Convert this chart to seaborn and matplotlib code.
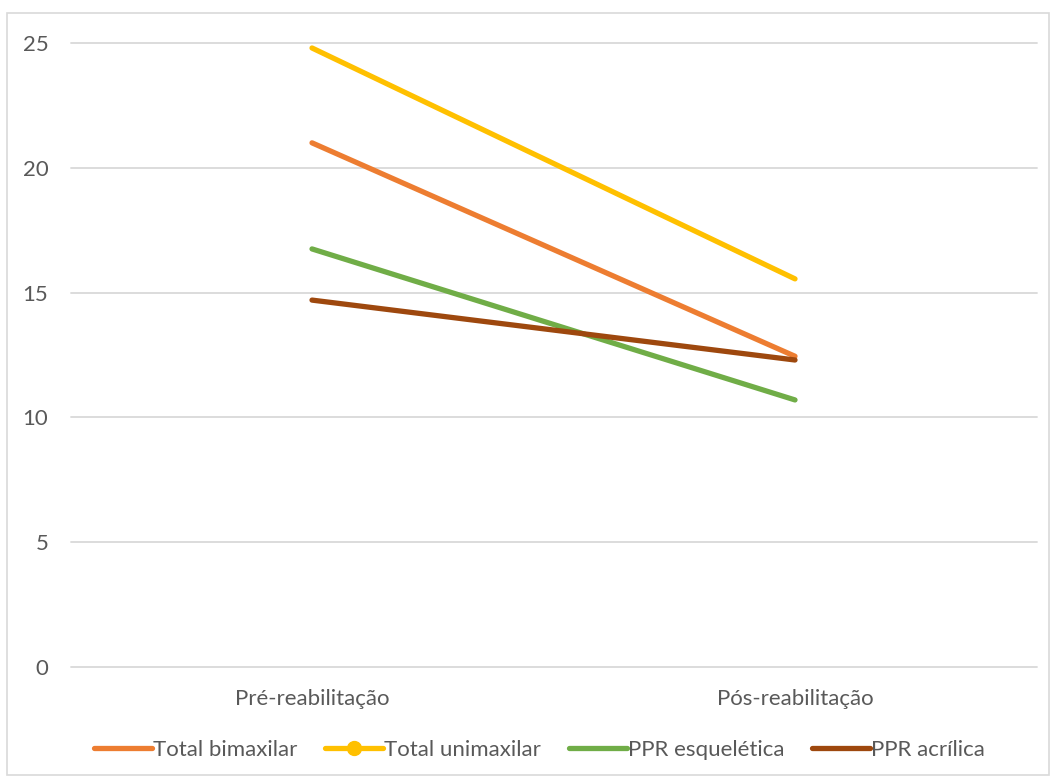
import seaborn as sns
import matplotlib.pyplot as plt
import pandas as pd
from matplotlib.patches import Rectangle

# dados
etapas = ['Pré-reabilitação', 'Pós-reabilitação']
series = ['Total bimaxilar', 'Total unimaxilar', 'PPR esquelética', 'PPR acrílica']
total_bimaxilar = [21.0, 12.45]
total_unimaxilar = [24.8, 15.55]
ppr_esqueletica = [16.75, 10.7]
ppr_acrilica = [14.7, 12.3]
cores = ['#ED7D31', '#FFC000', '#70AD47', '#9E480E']

df = pd.DataFrame({
    'etapa': etapas * 4,
    'pos': [0.5, 1.5] * 4,
    'serie': [s for s in series for _ in range(2)],
    'valor': total_bimaxilar + total_unimaxilar + ppr_esqueletica + ppr_acrilica,
})

sns.set_style('white')
plt.rcParams['font.family'] = ['Lato', 'DejaVu Sans']

fig = plt.figure(figsize=(10.54, 7.83), dpi=100)
ax = fig.add_axes([0.0669, 0.1481, 0.9165, 0.797])

sns.lineplot(data=df, x='pos', y='valor', hue='serie', hue_order=series,
             palette=cores, linewidth=3.8, ax=ax, legend=False,
             solid_capstyle='round')

ax.set_xlim(0, 2)
ax.set_ylim(0, 25)
ax.set_yticks(range(0, 26, 5))
ax.set_xticks([0.5, 1.5])
ax.set_xticklabels(etapas)
ax.yaxis.grid(True, color='#D9D9D9', linewidth=1.3)
for gl in ax.get_ygridlines():
    gl.set_clip_on(False)
ax.set_axisbelow(True)
for s in ax.spines.values():
    s.set_visible(False)
ax.tick_params(axis='both', length=0, labelsize=16, labelcolor='#595959')
ax.tick_params(axis='y', pad=16)
ax.tick_params(axis='x', pad=16)
ax.set_xlabel('')
ax.set_ylabel('')

# legenda
handles = []
for s, c in zip(series, cores):
    if s == 'Total unimaxilar':
        h, = ax.plot([], [], color=c, linewidth=3.8, marker='o', markersize=10)
    else:
        h, = ax.plot([], [], color=c, linewidth=3.8)
    handles.append(h)
fig.legend(handles, series, loc='center', bbox_to_anchor=(0.512, 0.042), ncol=4,
           frameon=False, fontsize=16, labelcolor='#595959', handlelength=2.6,
           handletextpad=0.05, columnspacing=1.25)

fig.patches.append(Rectangle((7 / 1054, 8 / 783), 1042 / 1054, 762 / 783,
                             transform=fig.transFigure, fill=False,
                             edgecolor='#D9D9D9', linewidth=1.2))

fig.savefig('out.png', dpi=100)
